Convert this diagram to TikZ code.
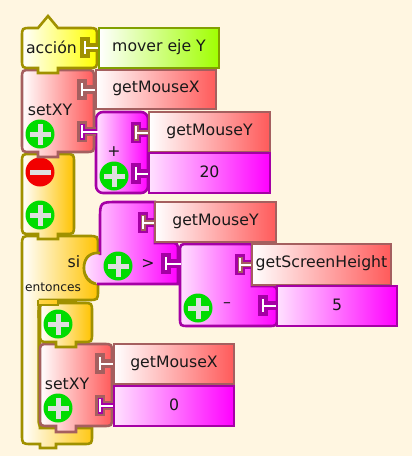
\documentclass[tikz,border=0pt]{standalone}
\usepackage{fontspec}
\setmainfont{DejaVu Sans}
\definecolor{bgc}{RGB}{255,246,225}
\definecolor{olv}{RGB}{160,145,0}
\definecolor{rse}{RGB}{165,95,95}
\definecolor{prp}{RGB}{165,0,165}
\definecolor{grn}{RGB}{130,160,0}
\definecolor{redend}{RGB}{255,90,90}
\definecolor{magend}{RGB}{255,0,255}
\definecolor{magst}{RGB}{255,225,255}
\definecolor{orgend}{RGB}{255,195,0}
\definecolor{limeend}{RGB}{160,255,0}
\definecolor{btn}{RGB}{0,220,0}
\definecolor{crs}{RGB}{222,222,222}
\tikzset{
 x=1pt,y=-1pt,
 redblk/.style={draw=rse,line width=2.6pt,line join=miter,left color=white,right color=redend},
 magblk/.style={draw=prp,line width=2.6pt,line join=miter,left color=magst,right color=magend},
 orgblk/.style={draw=olv,line width=2.6pt,line join=miter,left color=white,right color=orgend},
 yelblk/.style={draw=olv,line width=2.6pt,line join=miter,left color=white,right color=yellow},
 limblk/.style={draw=grn,line width=2.6pt,left color=white,right color=limeend},
 lab/.style={inner sep=0pt,font=\fontsize{15.7}{16}\selectfont,text=black!90},
 smalllab/.style={inner sep=0pt,font=\fontsize{12.2}{13}\selectfont,text=black!90},
}
% value box
\newcommand{\valbox}[7]{% name x1 y1 x2 y2 style text
 \path[#6] (#2,#3) rectangle (#4,#5);
 \node[lab] (#1) at ({(#2+#4)/2},{(#3+#5)/2-1}) {#7};}
% T-shaped socket: x y width outer inner
\newcommand{\sock}[5]{%
 \fill[#4] (#1,#2) rectangle ++(10,21);
 \fill[#4] (#1,#2+6) rectangle (#1+#3,#2+15);
 \fill[#5] (#1+2.5,#2+2.5) rectangle (#1+7.5,#2+18.5);
 \fill[#5] (#1+7,#2+8) rectangle (#1+#3,#2+13);
 \fill[white] (#1+4,#2+4) rectangle (#1+6,#2+17);
 \fill[white] (#1+4,#2+9.5) rectangle (#1+#3+2,#2+11.5);}
% round button
\newcommand{\plusbtn}[3]{%
 \node[circle,fill=btn,minimum size=29pt,inner sep=0pt] (#1) at (#2,#3) {};
 \fill[crs] (#2-10.5,#3-2.5) rectangle (#2+10.5,#3+2.5);
 \fill[crs] (#2-2.5,#3-10.5) rectangle (#2+2.5,#3+10.5);}
\begin{document}
\begin{tikzpicture}
\useasboundingbox (0,0) rectangle (412,456);
\fill[bgc] (0,0) rectangle (412,456);

% si block
\path[orgblk] (56,444) -- (56,448) -- (40,448) -- (40,444) -- (32,444)
  .. controls (22,444) .. (22,434) -- (22,246) .. controls (22,236) .. (32,236)
  -- (88,236) .. controls (98,236) .. (98,246)
  -- (98,254) .. controls (90,252) and (84,258) .. (84,268)
  .. controls (84,278) and (90,284) .. (98,284)
  -- (98,290) .. controls (98,300) .. (88,300)
  -- (40,300) -- (40,428) -- (92,428) -- (92,435) .. controls (92,444) .. (83,444) -- cycle;
\draw[olv,line width=3.2pt] (39,310) -- (39,418) .. controls (39,427) .. (48,427) -- (70,427);
\node[lab] (si) at (74,262) {si};
\node[smalllab] (entonces) at (53,287) {entonces};

% inner setXY
\path[redblk] (76,426) -- (76,432) -- (56,432) -- (56,426) -- (49,426)
  .. controls (40,426) .. (40,417) -- (40,353) .. controls (40,344) .. (49,344)
  -- (103,344) .. controls (112,344) .. (112,353) -- (112,417) .. controls (112,426) .. (103,426) -- cycle;
\sock{95}{353}{19}{rse}{rse}
\sock{95}{395}{19}{rse}{prp}
\node[lab] (setb) at (67,384) {setXY};
\plusbtn{pf}{58}{408}
\valbox{gmx2}{114}{344}{234}{384}{redblk}{getMouseX}
\valbox{zero}{114}{386}{234}{426}{magblk}{0}

% inner orange slot
\path[orgblk] (76,342) -- (76,347) -- (56,347) -- (56,342) -- (49,342)
  .. controls (40,342) .. (40,333) -- (40,312) .. controls (40,303) .. (49,303)
  -- (83,303) .. controls (92,303) .. (92,312) -- (92,333) .. controls (92,342) .. (83,342) -- cycle;
\draw[olv,line width=3.2pt] (39,318) -- (39,311) .. controls (39,302) .. (48,302) -- (77,302);
\path[left color=white!30!orgend,right color=white!10!orgend,draw=olv,line width=2.6pt] (38,300) -- (38,305) -- (58,305) -- (58,300);
\plusbtn{pe}{58}{324}

% minus block
\path[magblk] (252,244) -- (189,244) .. controls (180,244) .. (180,253) -- (180,317)
  .. controls (180,326) .. (189,326) -- (268,326) .. controls (277,326) .. (277,317)
  -- (277,295) .. controls (277,286) .. (268,286) -- (252,286) -- cycle;
\sock{235}{254}{17}{prp}{rse}
\sock{258}{295}{19}{prp}{prp}
\plusbtn{pm}{198}{308}
\node[lab] (minus) at (227,305) {–};
\valbox{gsh}{252}{244}{391}{285}{redblk}{getScreenHeight}
\valbox{five}{277}{286}{397}{326}{magblk}{5}

% greater block
\path[left color=magst,right color=magend]
  (155,202) -- (118,202) .. controls (100,202) .. (100,220) -- (100,253)
  .. controls (90,252) and (84,258) .. (84,268)
  .. controls (84,278) and (90,284) .. (100,284) -- (178,284)
  -- (178,252) .. controls (178,243) .. (169,243) -- (155,243) -- cycle;
\draw[prp,line width=2.6pt] (100,255) -- (100,220) .. controls (100,202) .. (118,202) -- (156,202);
\draw[prp,line width=2.6pt] (155,202) -- (155,243) -- (169,243) .. controls (178,243) .. (178,252)
  -- (178,284) -- (97,284);
\draw[olv,line width=2.6pt] (100,253) .. controls (90,252) and (84,258) .. (84,268)
  .. controls (84,276) and (89,282) .. (96,284);
\sock{138}{212}{17}{prp}{rse}
\sock{161}{253}{18}{prp}{prp}
\plusbtn{pg}{118}{266}
\node[lab] (gt) at (148,264) {>};
\valbox{gmy2}{155}{202}{276}{242}{redblk}{getMouseY}

% orange block
\path[orgblk] (58,234) -- (58,239) -- (38,239) -- (38,234) -- (31,234)
  .. controls (22,234) .. (22,225) -- (22,163) .. controls (22,154) .. (31,154)
  -- (65,154) .. controls (74,154) .. (74,163) -- (74,225) .. controls (74,234) .. (65,234) -- cycle;
\node[circle,fill=red!95!black,minimum size=29pt,inner sep=0pt] (mn) at (40,172) {};
\fill[crs] (29.5,169.5) rectangle (50.5,174.5);
\plusbtn{po}{40}{215}

% plus block
\path[magblk,rounded corners=7pt] (96,112) rectangle (148,193);
\sock{131}{122}{18}{prp}{rse}
\sock{131}{163}{18}{prp}{prp}
\node[lab] (plus) at (114,152) {+};
\plusbtn{pp}{114}{176}
\valbox{gmy}{149}{112}{270}{152}{redblk}{getMouseY}
\valbox{twenty}{149}{153}{270}{193}{magblk}{20}

% setXY block
\path[redblk] (58,152) -- (58,157) -- (38,157) -- (38,152) -- (31,152)
  .. controls (22,152) .. (22,143) -- (22,79) .. controls (22,70) .. (31,70)
  -- (85,70) .. controls (94,70) .. (94,79) -- (94,143) .. controls (94,152) .. (85,152) -- cycle;
\sock{77}{79}{19}{rse}{rse}
\sock{77}{121}{19}{rse}{prp}
\node[lab] (seta) at (50,110) {setXY};
\plusbtn{ps}{40}{134}
\valbox{gmx}{96}{70}{216}{109}{redblk}{getMouseX}

% action block
\path[yelblk] (58,68) -- (58,73) -- (38,73) -- (38,68) -- (31,68)
  .. controls (22,68) .. (22,59) -- (22,37) .. controls (22,28) .. (31,28)
  -- (38,28) -- (48,16) -- (58,28)
  -- (88,28) .. controls (97,28) .. (97,37) -- (97,59) .. controls (97,68) .. (88,68) -- cycle;
\sock{80}{37}{19}{olv}{olv}
\node[lab] (acc) at (51.5,47) {acción};
\valbox{mov}{99}{28}{219}{68}{limblk}{mover eje Y}
\end{tikzpicture}
\end{document}
